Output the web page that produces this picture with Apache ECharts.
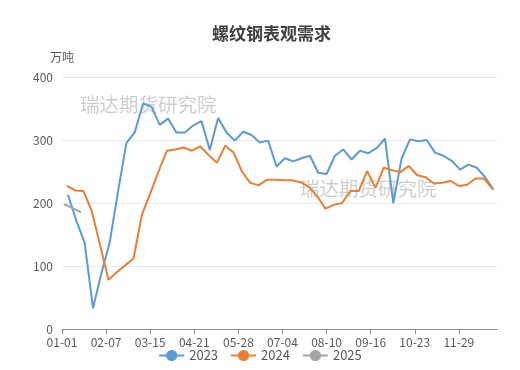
<!DOCTYPE html>
<html>
<head>
<meta charset="utf-8">
<script src="https://cdn.jsdelivr.net/npm/echarts@6/dist/echarts.min.js"></script>
<style>html,body{margin:0;padding:0;background:#fff;}#c{width:520px;height:370px;}</style>
</head>
<body>
<div id="c"></div>
<script>
// Day-of-year categories (MM-DD), leap-year calendar
var monthDays = [31,29,31,30,31,30,31,31,30,31,30,31];
var categories = [];
for (var m = 0; m < 12; m++) {
  for (var d = 1; d <= monthDays[m]; d++) {
    categories.push((m < 9 ? '0' : '') + (m + 1) + '-' + (d < 10 ? '0' : '') + d);
  }
}
var seriesNames = ['2023', '2024', '2025'];
// first weekly observation (category index) for each year
var startIndex2023 = 5, startIndex2024 = 4, startIndex2025 = 2;
var values2023 = [213,172,137,33,88,137,218,295,312,358,353,324,334,312,312,323,330,284,335,312,
  299,313,308,296,299,258,271,266,271,275,248,246,275,285,269,283,279,287,302,200,
  271,301,298,300,280,275,267,253,261,256,241,221];
var values2024 = [227,220,219,187,133,78,90,101,112,181,215,250,283,285,288,283,290,276,264,291,
  280,250,232,228,237,237,236,236,233,226,211,191,197,200,219,219,251,224,256,252,
  249,259,244,241,231,232,235,227,229,239,239,223];
var values2025 = [198,192,185];
var yTicks = [0,100,200,300,400];

function weekly(start, vals) {
  return vals.map(function (v, i) { return [categories[start + 7 * i], v]; });
}

var chart = echarts.init(document.getElementById('c'), null, {renderer: 'canvas'});
var colors = ['#5B9BD5', '#ED7D31', '#A5A5A5'];
var font = '"Microsoft YaHei","Noto Sans CJK SC",sans-serif';
chart.setOption({
  animation: false,
  color: colors,
  textStyle: {fontFamily: font},
  title: {
    text: '螺纹钢表观需求', left: 207, top: 20,
    textStyle: {fontSize: 17, fontWeight: 'bold', color: '#404040', fontFamily: font}
  },
  legend: {
    data: seriesNames, bottom: 3, left: 'center', itemWidth: 25, itemHeight: 14, itemGap: 12,
    textStyle: {fontSize: 13, color: '#595959'}
  },
  grid: {left: 62, right: 23, top: 77, bottom: 41, containLabel: false},
  graphic: [
    {type: 'text', left: 80, top: 95, silent: true,
     style: {text: '瑞达期货研究院', font: '19.5px ' + font, fill: 'rgba(0,0,0,0.2)'}},
    {type: 'text', left: 300, top: 179, silent: true,
     style: {text: '瑞达期货研究院', font: '19.5px ' + font, fill: 'rgba(0,0,0,0.2)'}}
  ],
  xAxis: {
    type: 'category', data: categories, boundaryGap: false,
    axisLine: {lineStyle: {color: '#8C8C8C'}},
    axisTick: {interval: 36, length: 5, lineStyle: {color: '#8C8C8C'}},
    axisLabel: {interval: 36, color: '#595959', fontSize: 12, margin: 7},
    splitLine: {show: false}
  },
  yAxis: {
    type: 'value', min: yTicks[0], max: yTicks[yTicks.length - 1], interval: 100,
    name: '万吨', nameGap: 14, nameTextStyle: {color: '#595959', fontSize: 12, align: 'right', padding: [0, -12, 0, 0]},
    axisLine: {show: false}, axisTick: {show: false},
    axisLabel: {color: '#595959', fontSize: 12, margin: 9},
    splitLine: {lineStyle: {color: '#E6EBF5'}}
  },
  series: [
    {name: '2023', type: 'line', data: weekly(startIndex2023, values2023), symbol: 'circle', showSymbol: false, lineStyle: {width: 2}},
    {name: '2024', type: 'line', data: weekly(startIndex2024, values2024), symbol: 'circle', showSymbol: false, lineStyle: {width: 2}},
    {name: '2025', type: 'line', data: weekly(startIndex2025, values2025), symbol: 'circle', showSymbol: false, lineStyle: {width: 2}}
  ]
});
</script>
</body>
</html>
